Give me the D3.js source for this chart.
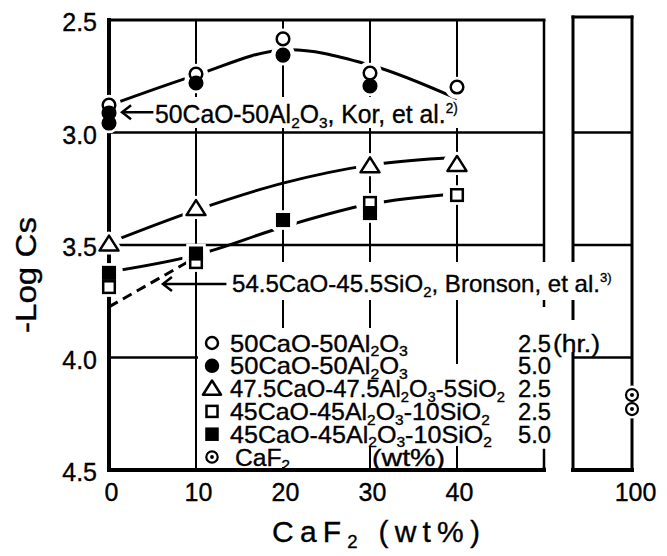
<!DOCTYPE html>
<html><head><meta charset="utf-8">
<script src="https://cdn.jsdelivr.net/npm/d3@7"></script>
<style>
body{margin:0;background:#fff}
svg{display:block}
text{font-family:"Liberation Sans",Arial,sans-serif;fill:#000;stroke:#000;stroke-width:0.35px}
</style>
</head><body>
<svg id="c" width="667" height="556"></svg>
<script>
// ---------------- data ----------------
const openCircleX = [0, 10, 20, 30, 40];                 // 50CaO-50Al2O3, 2.5 hr
const openCircle  = [2.878, 2.74, 2.584, 2.736, 2.798];
const filledCircleX = [0, 0, 10, 20, 30];                // 50CaO-50Al2O3, 5.0 hr
const filledCircle  = [2.958, 2.913, 2.78, 2.656, 2.793];
const triangleX = [0, 10, 30, 40];                       // 47.5CaO-47.5Al2O3-5SiO2, 2.5 hr
const triangle  = [3.496, 3.338, 3.148, 3.142];
const openSquareX = [0, 10, 30, 40];                     // 45CaO-45Al2O3-10SiO2, 2.5 hr
const openSquare  = [3.687, 3.576, 3.313, 3.278];
const filledSquareX = [0, 10, 20, 30];                   // 45CaO-45Al2O3-10SiO2, 5.0 hr
const filledSquare  = [3.624, 3.538, 3.389, 3.358];
const caf2X = [100, 100];                                // CaF2
const caf2  = [4.167, 4.229];

const korCurveX = [0, 10, 20, 30, 40];
const korCurve  = [2.88, 2.745, 2.633, 2.70, 2.85];
const triCurveX = [0, 10, 20, 30, 40];
const triCurve  = [3.49, 3.345, 3.225, 3.145, 3.11];
const sqCurveX  = [0, 10, 20, 30, 40];
const sqCurve   = [3.62, 3.545, 3.42, 3.318, 3.272];
const bronsonX  = [0, 9.3];
const bronson   = [3.775, 3.57];

const yTicks = [2.5, 3.0, 3.5, 4.0, 4.5];
const xTicks = [0, 10, 20, 30, 40];
const xTicksRight = [100];

const legendTypes  = ["oc", "fc", "tri", "os", "fs", "dot"];
const legendLabels = ["50CaO-50Al_2O_3", "50CaO-50Al_2O_3", "47.5CaO-47.5Al_2O_3-5SiO_2",
                      "45CaO-45Al_2O_3-10SiO_2", "45CaO-45Al_2O_3-10SiO_2", "CaF_2"];
const legendTimes  = ["2.5", "5.0", "2.5", "2.5", "5.0"];
const korLabel = "50CaO-50Al_2O_3, Kor, et al.^2)";
const bronsonLabel = "54.5CaO-45.5SiO_2, Bronson, et al.^3)";

// ---------------- scales ----------------
const svg = d3.select("#c");
const x  = d3.scaleLinear([0, 50], [109, 544]);
const y  = d3.scaleLinear([2.5, 4.5], [20, 470]);
const xr = d3.scaleLinear([93, 100], [573, 632]);

const gGrid = svg.append("g");
const gWhite = svg.append("g");
const gCurves = svg.append("g");
const gHalo = svg.append("g");
const gMark = svg.append("g");
const gText = svg.append("g");
const defs = svg.append("defs");

// ---------------- grid & frame ----------------
function seg(g, x1, y1, x2, y2, w) {
  g.append("line").attr("x1", x1).attr("y1", y1).attr("x2", x2).attr("y2", y2)
    .attr("stroke", "#000").attr("stroke-width", w).attr("stroke-linecap", "square");
}
gGrid.selectAll("line.h").data([3.0, 3.5, 4.0]).join("line").attr("class", "h")
  .attr("x1", x(0)).attr("x2", x(50)).attr("y1", d => y(d)).attr("y2", d => y(d))
  .attr("stroke", "#000").attr("stroke-width", 2.5);
gGrid.selectAll("line.v").data([10, 20, 30, 40, 50]).join("line").attr("class", "v")
  .attr("x1", d => x(d)).attr("x2", d => x(d)).attr("y1", y(2.5)).attr("y2", y(4.5))
  .attr("stroke", "#000").attr("stroke-width", d => d === 50 ? 2.5 : 2);
seg(gGrid, x(0), y(2.5), x(50), y(2.5), 3);
seg(gGrid, x(0), y(4.5), x(50), y(4.5), 4);
seg(gGrid, x(0), y(2.5), x(0), y(4.5), 4);
// right panel
gGrid.selectAll("line.hr").data([3.0, 3.5, 4.0]).join("line").attr("class", "hr")
  .attr("x1", xr(93)).attr("x2", xr(100)).attr("y1", d => y(d)).attr("y2", d => y(d))
  .attr("stroke", "#000").attr("stroke-width", 2.5);
seg(gGrid, xr(93), y(2.5) - 3, xr(100), y(2.5) - 3, 3);
seg(gGrid, xr(93), y(4.5), xr(100), y(4.5), 4);
seg(gGrid, xr(93), y(2.5) - 3, xr(93), y(4.5), 3);
seg(gGrid, xr(100), y(2.5) - 3, xr(100), y(4.5), 3);

// legend white area and surviving line pieces
function white(x1, y1, x2, y2) {
  gWhite.append("rect").attr("x", x1).attr("y", y1).attr("width", x2 - x1).attr("height", y2 - y1).attr("fill", "#fff");
}
white(x(10) + 2, 328, xr(93) - 2, 467);
white(x(50) - 3, 307, x(50) + 3, 330);
white(xr(93) - 4, 320, xr(93) + 4, 352);
seg(gWhite, x(40), 328, x(40), 363, 2);
[30, 40].forEach(v => seg(gWhite, x(v), 447, x(v), 469, 2));
seg(gWhite, x(50), 450, x(50), 469, 2.5);

// ---------------- text helpers ----------------
function rich(g, str, size) {
  const t = g.append("text").attr("font-size", size);
  let buf = "", pend = 0, i = 0;
  const flush = () => { if (buf) { const s = t.append("tspan").text(buf); if (pend) { s.attr("dy", pend); pend = 0; } buf = ""; } };
  while (i < str.length) {
    const c = str[i];
    if (c === "_") {
      flush();
      t.append("tspan").attr("font-size", size * 0.62).attr("dy", size * 0.2 + pend).text(str[i + 1]);
      pend = -size * 0.2; i += 2; continue;
    }
    if (c === "^") {
      flush();
      t.append("tspan").attr("font-size", size * 0.55).attr("dy", -size * 0.42 + pend).text(str.slice(i + 1));
      pend = 0; i = str.length; continue;
    }
    buf += c; i++;
  }
  flush();
  return t;
}
function place(t, x0, y0, w, anchor) {
  const n = t.node().getComputedTextLength();
  const s = w ? w / n : 1;
  const xs = anchor === "end" ? x0 - n * s : anchor === "middle" ? x0 - n * s / 2 : x0;
  t.attr("transform", `translate(${xs},${y0}) scale(${s},1)`);
  return t;
}

// ---------------- axes labels ----------------
const yAx = svg.append("g").attr("transform", `translate(97,0)`)
  .call(d3.axisLeft(y).tickValues(yTicks).tickSize(0).tickPadding(0).tickFormat(d3.format(".1f")));
yAx.select(".domain").remove();
yAx.selectAll("text").attr("font-size", 25).attr("dy", "0.42em").attr("font-family", "Liberation Sans").attr("fill", "#000");

const xAx = svg.append("g").attr("transform", `translate(2,${y(4.5)})`)
  .call(d3.axisBottom(x).tickValues(xTicks).tickSize(0).tickPadding(13).tickFormat(d3.format("d")));
xAx.select(".domain").remove();
xAx.selectAll("text").attr("font-size", 25).attr("font-family", "Liberation Sans").attr("fill", "#000");

const xAxR = svg.append("g").attr("transform", `translate(3,${y(4.5)})`)
  .call(d3.axisBottom(xr).tickValues(xTicksRight).tickSize(0).tickPadding(13).tickFormat(d3.format("d")));
xAxR.select(".domain").remove();
xAxR.selectAll("text").attr("font-size", 25).attr("font-family", "Liberation Sans").attr("fill", "#000");

// x title with letter spacing
{
  const t = rich(gText, "CaF_2 (wt%)", 30);
  const n = t.node().getComputedTextLength();
  const chars = 10;
  const ls = (208 - n) / (chars - 1);
  t.attr("letter-spacing", ls).attr("transform", "translate(272,542)");
}
// y title
{
  const t = gText.append("text").attr("font-size", 30).text("-Log Cs");
  const n = t.node().getComputedTextLength();
  const s = 116 / n;
  t.attr("transform", `translate(36,275) rotate(-90) translate(${-n * s / 2},0) scale(${s},1)`);
}

// ---------------- annotations ----------------
place(rich(gText, korLabel, 25), 155, 123, 303);
white(152, 97, 462, 128);
place(rich(gText, bronsonLabel, 24), 232, 292, 380);
white(228, 262, 616, 300);

function arrow(xa, xb, yv) {
  const g = gCurves.append("g").attr("stroke", "#000").attr("stroke-width", 2.5).attr("fill", "none");
  g.append("line").attr("x1", x(xa)).attr("x2", x(xb)).attr("y1", y(yv)).attr("y2", y(yv));
  g.append("path").attr("d", `M${x(xb) + 9},${y(yv) - 7} L${x(xb)},${y(yv)} L${x(xb) + 9},${y(yv) + 7}`);
}

// ---------------- curves ----------------
const lineGen = d3.line().x(d => x(d[0])).y(d => y(d[1])).curve(d3.curveCatmullRom.alpha(0.5));
function mask(id, pts, r) {
  const m = defs.append("mask").attr("id", id).attr("maskUnits", "userSpaceOnUse")
    .attr("x", 0).attr("y", 0).attr("width", 667).attr("height", 556);
  m.append("rect").attr("width", 667).attr("height", 556).attr("fill", "#fff");
  m.selectAll("circle").data(pts).join("circle").attr("cx", d => x(d[0])).attr("cy", d => y(d[1])).attr("r", r).attr("fill", "#000");
}
const zip = (a, b) => a.map((v, i) => [v, b[i]]);
mask("mk", zip(openCircleX, openCircle).concat(zip(filledCircleX, filledCircle)), 12);
mask("mt", zip(triangleX, triangle), 14);
mask("ms", zip(openSquareX, openSquare).concat(zip(filledSquareX, filledSquare)), 14);

gCurves.append("path").datum(zip(korCurveX, korCurve)).attr("d", lineGen).attr("mask", "url(#mk)")
  .attr("fill", "none").attr("stroke", "#000").attr("stroke-width", 3);
gCurves.append("path").datum(zip(triCurveX, triCurve)).attr("d", lineGen).attr("mask", "url(#mt)")
  .attr("fill", "none").attr("stroke", "#000").attr("stroke-width", 3);
gCurves.append("path").datum(zip(sqCurveX, sqCurve)).attr("d", lineGen).attr("mask", "url(#ms)")
  .attr("fill", "none").attr("stroke", "#000").attr("stroke-width", 3);
gCurves.append("path").datum(zip(bronsonX, bronson)).attr("d", d3.line().x(d => x(d[0])).y(d => y(d[1])))
  .attr("fill", "none").attr("stroke", "#000").attr("stroke-width", 3).attr("stroke-dasharray", "10,6");
arrow(5.1, 1.5, 2.91);
arrow(13.5, 6.2, 3.673);

// ---------------- markers ----------------
function sym(g, type, cx, cy, halo, k) {
  k = k || 1;
  const col = halo ? "#fff" : "#000";
  const sw = halo ? 8 : 2.5;
  const fillOpen = "#fff";
  if (type === "oc" || type === "fc") {
    g.append("circle").attr("cx", cx).attr("cy", cy).attr("r", 6.3 * k)
      .attr("fill", type === "fc" ? col : fillOpen).attr("stroke", col).attr("stroke-width", sw);
  } else if (type === "tri") {
    const hw = 9.5 * k, up = 8.5 * k, dn = 6.5 * k;
    g.append("path").attr("d", `M${cx},${cy - up} L${cx + hw},${cy + dn} L${cx - hw},${cy + dn} Z`)
      .attr("fill", fillOpen).attr("stroke", col).attr("stroke-width", sw).attr("stroke-linejoin", "round");
  } else if (type === "os" || type === "fs") {
    const h = 5.8 * k;
    g.append("rect").attr("x", cx - h).attr("y", cy - h).attr("width", 2 * h).attr("height", 2 * h)
      .attr("fill", type === "fs" ? col : fillOpen).attr("stroke", col).attr("stroke-width", sw);
  } else if (type === "dot") {
    g.append("circle").attr("cx", cx).attr("cy", cy).attr("r", 6 * k)
      .attr("fill", fillOpen).attr("stroke", col).attr("stroke-width", halo ? 7 : 2.2);
    if (!halo) g.append("circle").attr("cx", cx).attr("cy", cy).attr("r", 2 * k).attr("fill", "#000");
  }
}
const series = [
  { t: "oc", xs: openCircleX, ys: openCircle, sx: x },
  { t: "fc", xs: filledCircleX, ys: filledCircle, sx: x },
  { t: "tri", xs: triangleX, ys: triangle, sx: x },
  { t: "os", xs: openSquareX, ys: openSquare, sx: x },
  { t: "fs", xs: filledSquareX, ys: filledSquare, sx: x },
  { t: "dot", xs: caf2X, ys: caf2, sx: xr },
];
series.forEach(s => s.xs.forEach((v, i) => sym(gHalo, s.t, s.sx(v), y(s.ys[i]), true)));
series.forEach(s => s.xs.forEach((v, i) => sym(gMark, s.t, s.sx(v), y(s.ys[i]), false)));

// ---------------- legend ----------------
const legY = d3.scaleLinear([0, 5], [343, 457]);
const legWidths = [178, 178, 275, 260, 262, 55];
legendTypes.forEach((tp, i) => {
  sym(gMark, tp, 212, legY(i), false, 0.95);
  const t = rich(gText, legendLabels[i], 23);
  place(t, i === 5 ? 235 : 230, legY(i) + 8.5, legWidths[i]);
});
legendTimes.forEach((tm, i) => {
  const t = gText.append("text").attr("font-size", 23).text(tm);
  place(t, 518, legY(i) + 8.5, 33);
});
place(gText.append("text").attr("font-size", 23).text("(hr.)"), 553, legY(0) + 8.5, 47);
place(gText.append("text").attr("font-size", 23).text("(wt%)"), 372, legY(5) + 8.5, 73);
</script>
</body></html>
